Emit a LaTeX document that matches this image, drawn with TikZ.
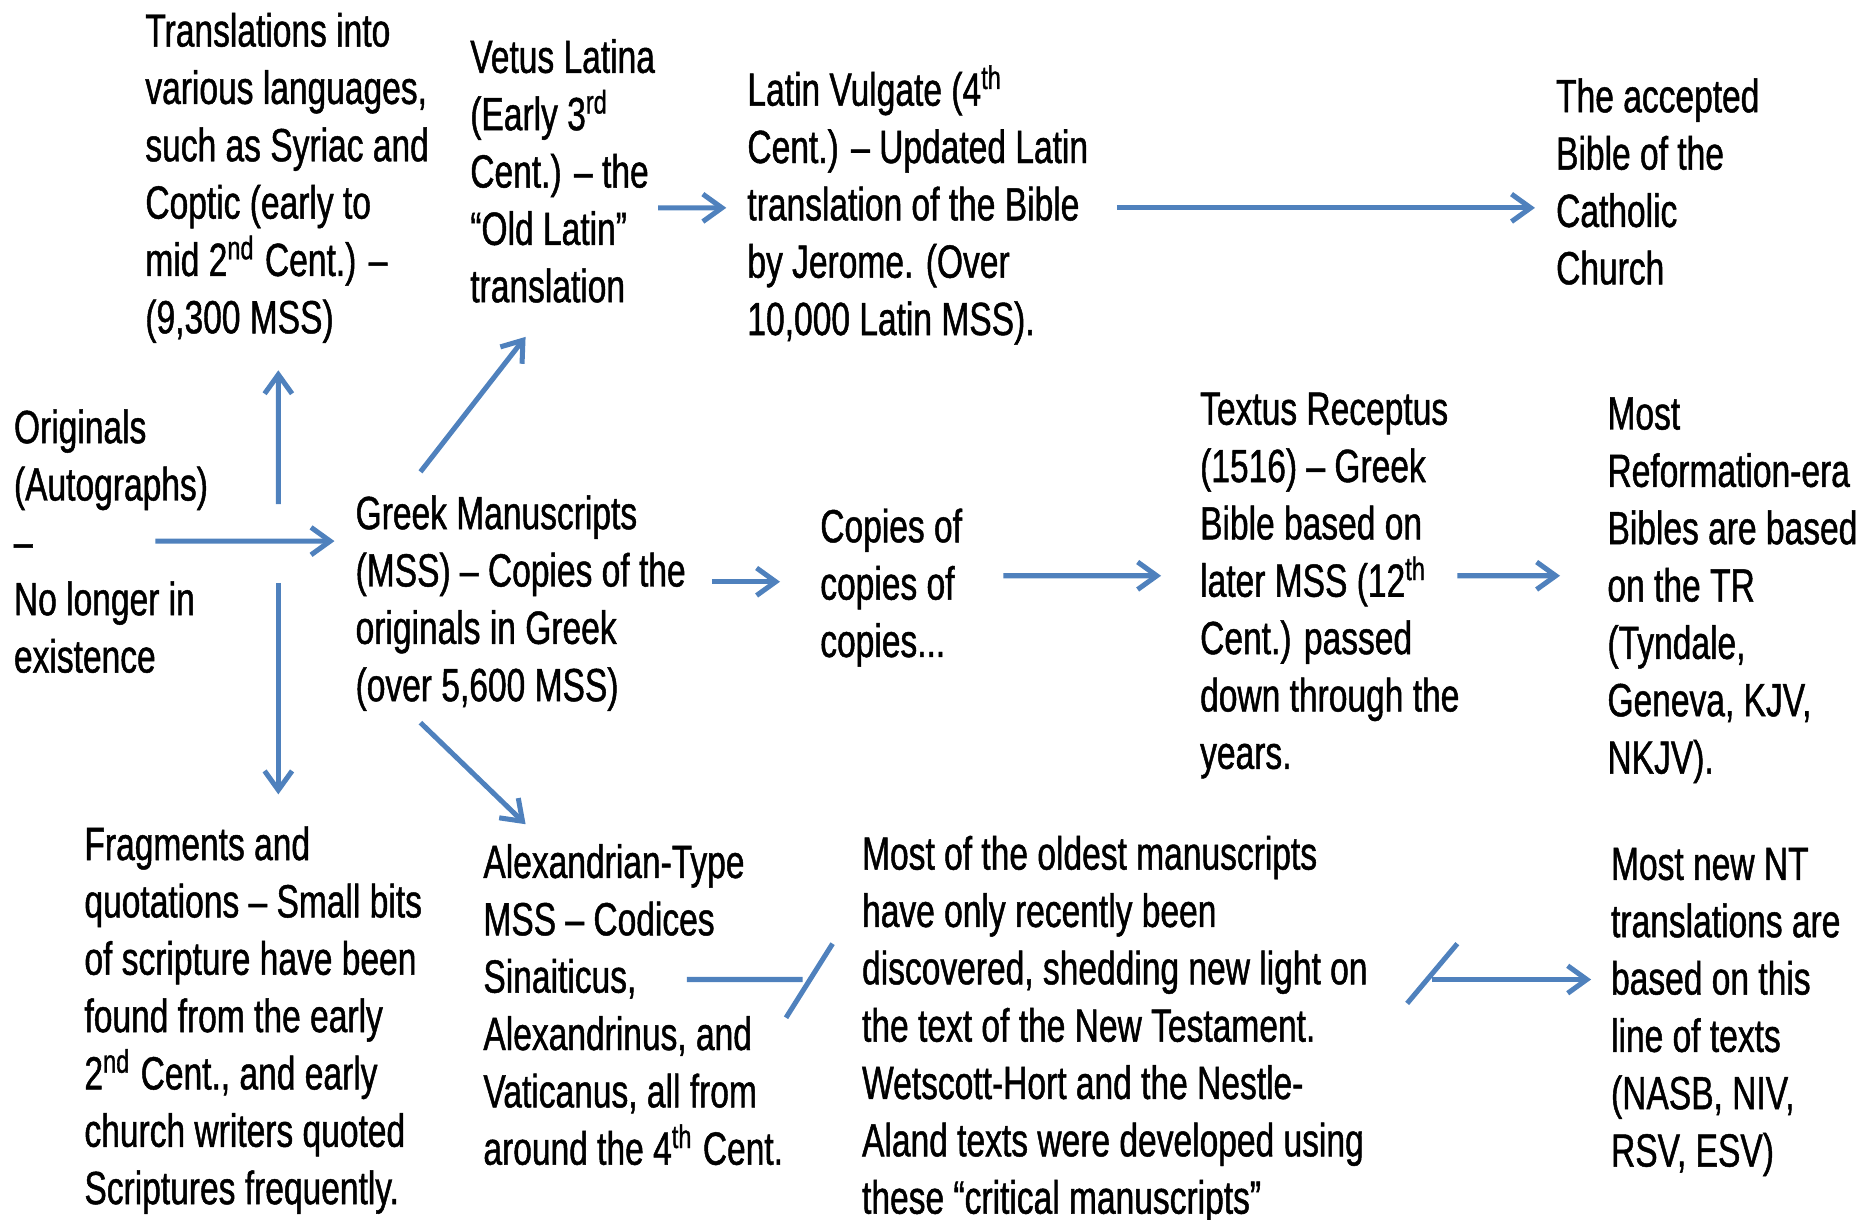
\documentclass[tikz,border=0pt]{standalone}
\usepackage{fontspec}
\setmainfont{Liberation Sans}[FakeStretch=0.72,FakeBold=1]
\usetikzlibrary{arrows.meta}
\definecolor{linkblue}{RGB}{79,129,189}
\tikzstyle{blurb} = [anchor=north west, inner sep=0pt, align=left, font=\fontsize{11.1pt}{13.66pt}\selectfont]
\tikzstyle{link} = [draw=linkblue, line width=1.2pt, -{Straight Barb[length=1.6mm,width=2.3mm]}]
\tikzstyle{tick} = [draw=linkblue, line width=1.2pt]

\begin{document}
\begin{tikzpicture}
  \useasboundingbox (0,0) rectangle (15.68,10.21);
  \node (a) at (1.21,10.11) [blurb] {Translations into\\various languages,\\such as Syriac and\\Coptic (early to\\mid 2\textsuperscript{nd} Cent.) –\\(9,300 MSS)};
  \node (b) at (3.93,9.89) [blurb] {Vetus Latina\\(Early 3\textsuperscript{rd}\\Cent.) – the\\“Old Latin”\\translation};
  \node (c) at (6.25,9.67) [blurb] {Latin Vulgate (4\textsuperscript{th}\\Cent.) – Updated Latin\\translation of the Bible\\by Jerome. (Over\\10,000 Latin MSS).};
  \node (d) at (13.02,9.56) [blurb] {The accepted\\Bible of the\\Catholic\\Church};
  \node (e) at (0.11,6.79) [blurb] {Originals\\(Autographs)\\–\\No longer in\\existence};
  \node (f) at (2.97,6.07) [blurb] {Greek Manuscripts\\(MSS) – Copies of the\\originals in Greek\\(over 5,600 MSS)};
  \node (g) at (6.86,5.96) [blurb] {Copies of\\copies of\\copies...};
  \node (h) at (10.04,6.93) [blurb] {Textus Receptus\\(1516) – Greek\\Bible based on\\later MSS (12\textsuperscript{th}\\Cent.) passed\\down through the\\years.};
  \node (i) at (13.45,6.89) [blurb] {Most\\Reformation-era\\Bibles are based\\on the TR\\(Tyndale,\\Geneva, KJV,\\NKJV).};
  \node (j) at (0.70,3.30) [blurb] {Fragments and\\quotations – Small bits\\of scripture have been\\found from the early\\2\textsuperscript{nd} Cent., and early\\church writers quoted\\Scriptures frequently.};
  \node (k) at (4.04,3.15) [blurb] {Alexandrian-Type\\MSS – Codices\\Sinaiticus,\\Alexandrinus, and\\Vaticanus, all from\\around the 4\textsuperscript{th} Cent.};
  \node (l) at (7.21,3.22) [blurb] {Most of the oldest manuscripts\\have only recently been\\discovered, shedding new light on\\the text of the New Testament.\\Wetscott-Hort and the Nestle-\\Aland texts were developed using\\these “critical manuscripts”};
  \node (m) at (13.48,3.12) [blurb] {Most new NT\\translations are\\based on this\\line of texts\\(NASB, NIV,\\RSV, ESV)};
  % from the originals
  \draw [link] ([shift={(1.19,-1.11)}]e.north west) -- ([shift={(-0.17,-0.39)}]f.north west);
  \draw [link] ([shift={(2.22,-0.80)}]e.north west) -- ([shift={(1.12,-3.00)}]a.north west);
  \draw [link] ([shift={(2.22,-1.46)}]e.north west) -- ([shift={(1.63,0.26)}]j.north west);
  % from the greek manuscripts
  \draw [link] ([shift={(0.55,0.19)}]f.north west) -- ([shift={(0.47,-2.50)}]b.north west);
  \draw [link] ([shift={(0.55,-1.91)}]f.north west) -- ([shift={(0.36,0.16)}]k.north west);
  \draw [link] ([shift={(2.99,-0.73)}]f.north west) -- ([shift={(-0.33,-0.62)}]g.north west);
  % latin line
  \draw [link] ([shift={(1.58,-1.42)}]b.north west) -- ([shift={(-0.17,-1.20)}]c.north west);
  \draw [link] ([shift={(3.10,-1.20)}]c.north west) -- ([shift={(-0.17,-1.09)}]d.north west);
  % textus receptus line
  \draw [link] ([shift={(1.54,-0.57)}]g.north west) -- ([shift={(-0.32,-1.54)}]h.north west);
  \draw [link] ([shift={(2.16,-1.54)}]h.north west) -- ([shift={(-0.39,-1.50)}]i.north west);
  % critical text line
  \draw [tick] ([shift={(1.71,-1.14)}]k.north west) -- ([shift={(-0.49,-1.21)}]l.north west);
  \draw [tick] ([shift={(-0.63,-1.53)}]l.north west) -- ([shift={(-0.24,-0.91)}]l.north west);
  \draw [tick] ([shift={(-1.70,-1.31)}]m.north west) -- ([shift={(-1.28,-0.81)}]m.north west);
  \draw [link] ([shift={(-1.49,-1.11)}]m.north west) -- ([shift={(-0.16,-1.11)}]m.north west);
\end{tikzpicture}
\end{document}
